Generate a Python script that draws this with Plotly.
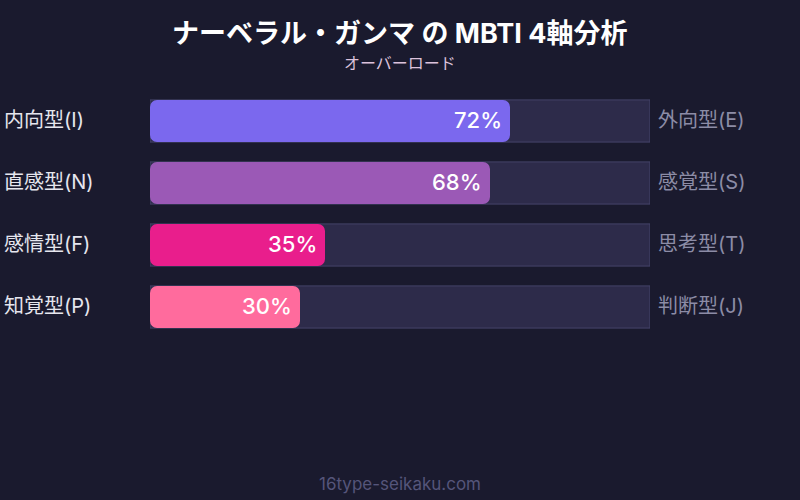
import plotly.graph_objects as go

# MBTI axes
left_labels = ["内向型(I)", "直感型(N)", "感情型(F)", "知覚型(P)"]
right_labels = ["外向型(E)", "感覚型(S)", "思考型(T)", "判断型(J)"]
scores = [72, 68, 35, 30]
full = [100, 100, 100, 100]
colors = ["#7B68EE", "#9B59B6", "#E91E8C", "#FF6B9D"]

FONT = "Inter, Noto Sans CJK JP, sans-serif"
BG = "#1a1a2e"

fig = go.Figure()

# background track
fig.add_trace(go.Bar(
    x=full, y=left_labels, orientation="h",
    marker=dict(color="#2d2b4a", line=dict(color="#45446a", width=1)),
    hoverinfo="skip", showlegend=False,
))

# score bars (explicit base so both ends get rounded)
fig.add_trace(go.Bar(
    x=scores, base=[0] * len(scores), y=left_labels, orientation="h",
    marker=dict(color=colors, cornerradius=7, line=dict(width=0)),
    hoverinfo="skip", showlegend=False,
))

# percent labels inside bars
for lab, v in zip(left_labels, scores):
    fig.add_annotation(x=v, y=lab, text=f"{v}%", showarrow=False,
                       xanchor="right", xshift=-6, yshift=1,
                       font=dict(family=FONT, size=22, weight=500, color="white"))

# left / right axis labels
for l, r in zip(left_labels, right_labels):
    fig.add_annotation(x=-0.297, xref="paper", y=l, text=l, showarrow=False,
                       xanchor="left", yshift=1,
                       font=dict(family=FONT, size=20, color="#e6e6ee"))
    fig.add_annotation(x=1.012, xref="paper", y=l, text=r, showarrow=False,
                       xanchor="left", yshift=1,
                       font=dict(family=FONT, size=20, color="#8c8ca6"))

# title, subtitle, footer
fig.add_annotation(x=0.5, xref="paper", y=1.226, yref="paper", yanchor="middle",
                   text="<b>ナーベラル・ガンマ の MBTI 4軸分析</b>", showarrow=False,
                   font=dict(family=FONT, size=27, color="white"))
fig.add_annotation(x=0.5, xref="paper", y=1.109, yref="paper", yanchor="middle",
                   text="オーバーロード", showarrow=False,
                   font=dict(family=FONT, size=16, color="#dcc2dc"))
fig.add_annotation(x=0.5, xref="paper", y=-0.589, yref="paper", yanchor="middle",
                   text="16type-seikaku.com", showarrow=False,
                   font=dict(family=FONT, size=17, color="#55557a"))

fig.update_layout(
    width=800, height=500,
    paper_bgcolor=BG, plot_bgcolor=BG,
    barmode="overlay", bargap=0.32,
    margin=dict(l=150, r=150, t=90, b=162),
    xaxis=dict(range=[0, 100], visible=False, fixedrange=True),
    yaxis=dict(autorange="reversed", showticklabels=False, showgrid=False,
               zeroline=False, fixedrange=True),
    font=dict(family=FONT),
)

fig.write_html("out.html", config={"displayModeBar": False},
               post_script="document.body.style.margin='0';")
